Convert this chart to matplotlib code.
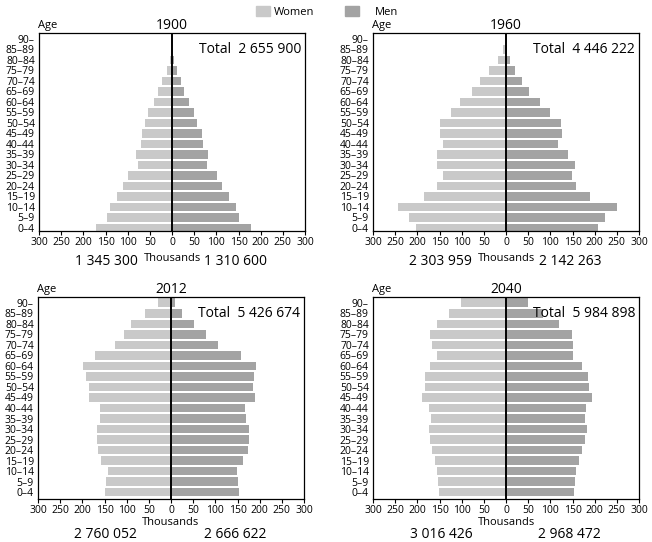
import numpy as np
import matplotlib.pyplot as plt
from matplotlib.patches import Patch

plt.rcParams['font.family'] = ['Open Sans', 'DejaVu Sans']

# Age groups, bottom to top
ages = ["0–4", "5–9", "10–14", "15–19", "20–24", "25–29", "30–34", "35–39",
        "40–44", "45–49", "50–54", "55–59", "60–64", "65–69", "70–74",
        "75–79", "80–84", "85–89", "90–"]

# Population in thousands
women_1900 = [172, 146, 139, 124, 110, 100, 77, 81, 71, 67, 60, 54, 41, 31, 22, 12, 4.5, 1, 0]
men_1900 = [178, 150, 144, 129, 112, 101, 79, 81, 70, 67, 57, 49.5, 38, 28, 20, 11, 4.5, 1, 0]

women_1960 = [202, 218, 244, 185, 156, 143, 155, 156, 141, 148, 148, 123, 103, 77, 59, 38, 17, 6, 0.5]
men_1960 = [208, 224, 251, 190, 159, 148, 155, 139, 117, 127, 125, 100, 76, 53, 35, 20, 10, 3, 0.5]

women_2012 = [149, 145.5, 142.5, 157.5, 165, 166, 167, 160.5, 160.5, 185, 185, 192, 198, 172.5, 127, 106, 90, 59, 29]
men_2012 = [154.5, 151, 148.5, 163, 173, 175, 177, 169.5, 166.5, 189, 185, 187.5, 191, 159, 106.5, 78, 52.5, 25.5, 8]

women_2040 = [152, 153, 156, 161, 166, 170.5, 173.5, 170, 173, 189, 182, 182, 172, 155, 166, 170.5, 156, 129, 101.5]
men_2040 = [154, 156, 159, 165, 171, 178, 183, 178, 180, 194, 187, 185, 171, 150, 152, 148, 120, 83, 49]

years = ["1900", "1960", "2012", "2040"]
totals = ["2 655 900", "4 446 222", "5 426 674", "5 984 898"]
women_totals = ["1 345 300", "2 303 959", "2 760 052", "3 016 426"]
men_totals = ["1 310 600", "2 142 263", "2 666 622", "2 968 472"]

women_all = [women_1900, women_1960, women_2012, women_2040]
men_all = [men_1900, men_1960, men_2012, men_2040]

women_color = "#c9c9c9"
men_color = "#a3a3a3"

fig = plt.figure(figsize=(6.52, 5.42), dpi=100)

# axes rectangles in figure fractions (left, bottom, width, height)
rects = [
    (39 / 652, (542 - 231) / 542, 266 / 652, 198 / 542),
    (373 / 652, (542 - 231) / 542, 266 / 652, 198 / 542),
    (38 / 652, (542 - 499) / 542, 266 / 652, 202 / 542),
    (373 / 652, (542 - 499) / 542, 266 / 652, 202 / 542),
]
ylims = [(-0.3, 18.57), (-0.3, 18.57), (-0.65, 18.55), (-0.65, 18.55)]

xt = np.arange(-300, 301, 50)
y = np.arange(len(ages))

for i in range(4):
    ax = fig.add_axes(rects[i])
    w = np.array(women_all[i])
    m = np.array(men_all[i])
    ax.barh(y, -w, height=0.82, color=women_color, linewidth=0)
    ax.barh(y, m, height=0.82, color=men_color, linewidth=0)
    ax.axvline(0, color="black", linewidth=1.4)

    ax.set_xlim(-300, 300)
    ax.set_ylim(*ylims[i])
    ax.set_xticks(xt)
    ax.set_xticklabels([str(abs(v)) for v in xt], fontsize=7.5)
    ax.set_yticks(y)
    ax.set_yticklabels(ages, fontsize=7.5)
    ax.tick_params(axis="y", length=0, pad=3)
    ax.tick_params(axis="x", length=3, width=0.8, pad=1.5)
    for s in ax.spines.values():
        s.set_linewidth(0.9)

    ax.set_title(years[i], fontsize=10, pad=3)
    ax.text(-0.005, 1.01, "Age", transform=ax.transAxes, fontsize=8,
            ha="left", va="bottom")
    ax.text(0.985, 0.955, "Total  " + totals[i], transform=ax.transAxes,
            fontsize=10, ha="right", va="top")

    if i < 2:
        ax.text(0.5, -0.11, "Thousands", transform=ax.transAxes, fontsize=8,
                ha="center", va="top")
        ax.text(0.255, -0.115, women_totals[i], transform=ax.transAxes,
                fontsize=10, ha="center", va="top")
        ax.text(0.74, -0.115, men_totals[i], transform=ax.transAxes,
                fontsize=10, ha="center", va="top")
    else:
        ax.text(0.5, -0.09, "Thousands", transform=ax.transAxes, fontsize=8,
                ha="center", va="top")
        ax.text(0.255, -0.14, women_totals[i], transform=ax.transAxes,
                fontsize=10, ha="center", va="top")
        ax.text(0.74, -0.14, men_totals[i], transform=ax.transAxes,
                fontsize=10, ha="center", va="top")

# legend, split in two like the original
fig.legend(handles=[Patch(color=women_color, label="Women")], loc="center left",
           bbox_to_anchor=(246 / 652, 1 - 12 / 542), frameon=False, fontsize=8,
           handlelength=1.3, handleheight=0.9, handletextpad=0.3)
fig.legend(handles=[Patch(color=men_color, label="Men")], loc="center left",
           bbox_to_anchor=(335 / 652, 1 - 12 / 542), frameon=False, fontsize=8,
           handlelength=1.3, handleheight=0.9, handletextpad=1.4)

fig.savefig("out.png", dpi=100)
